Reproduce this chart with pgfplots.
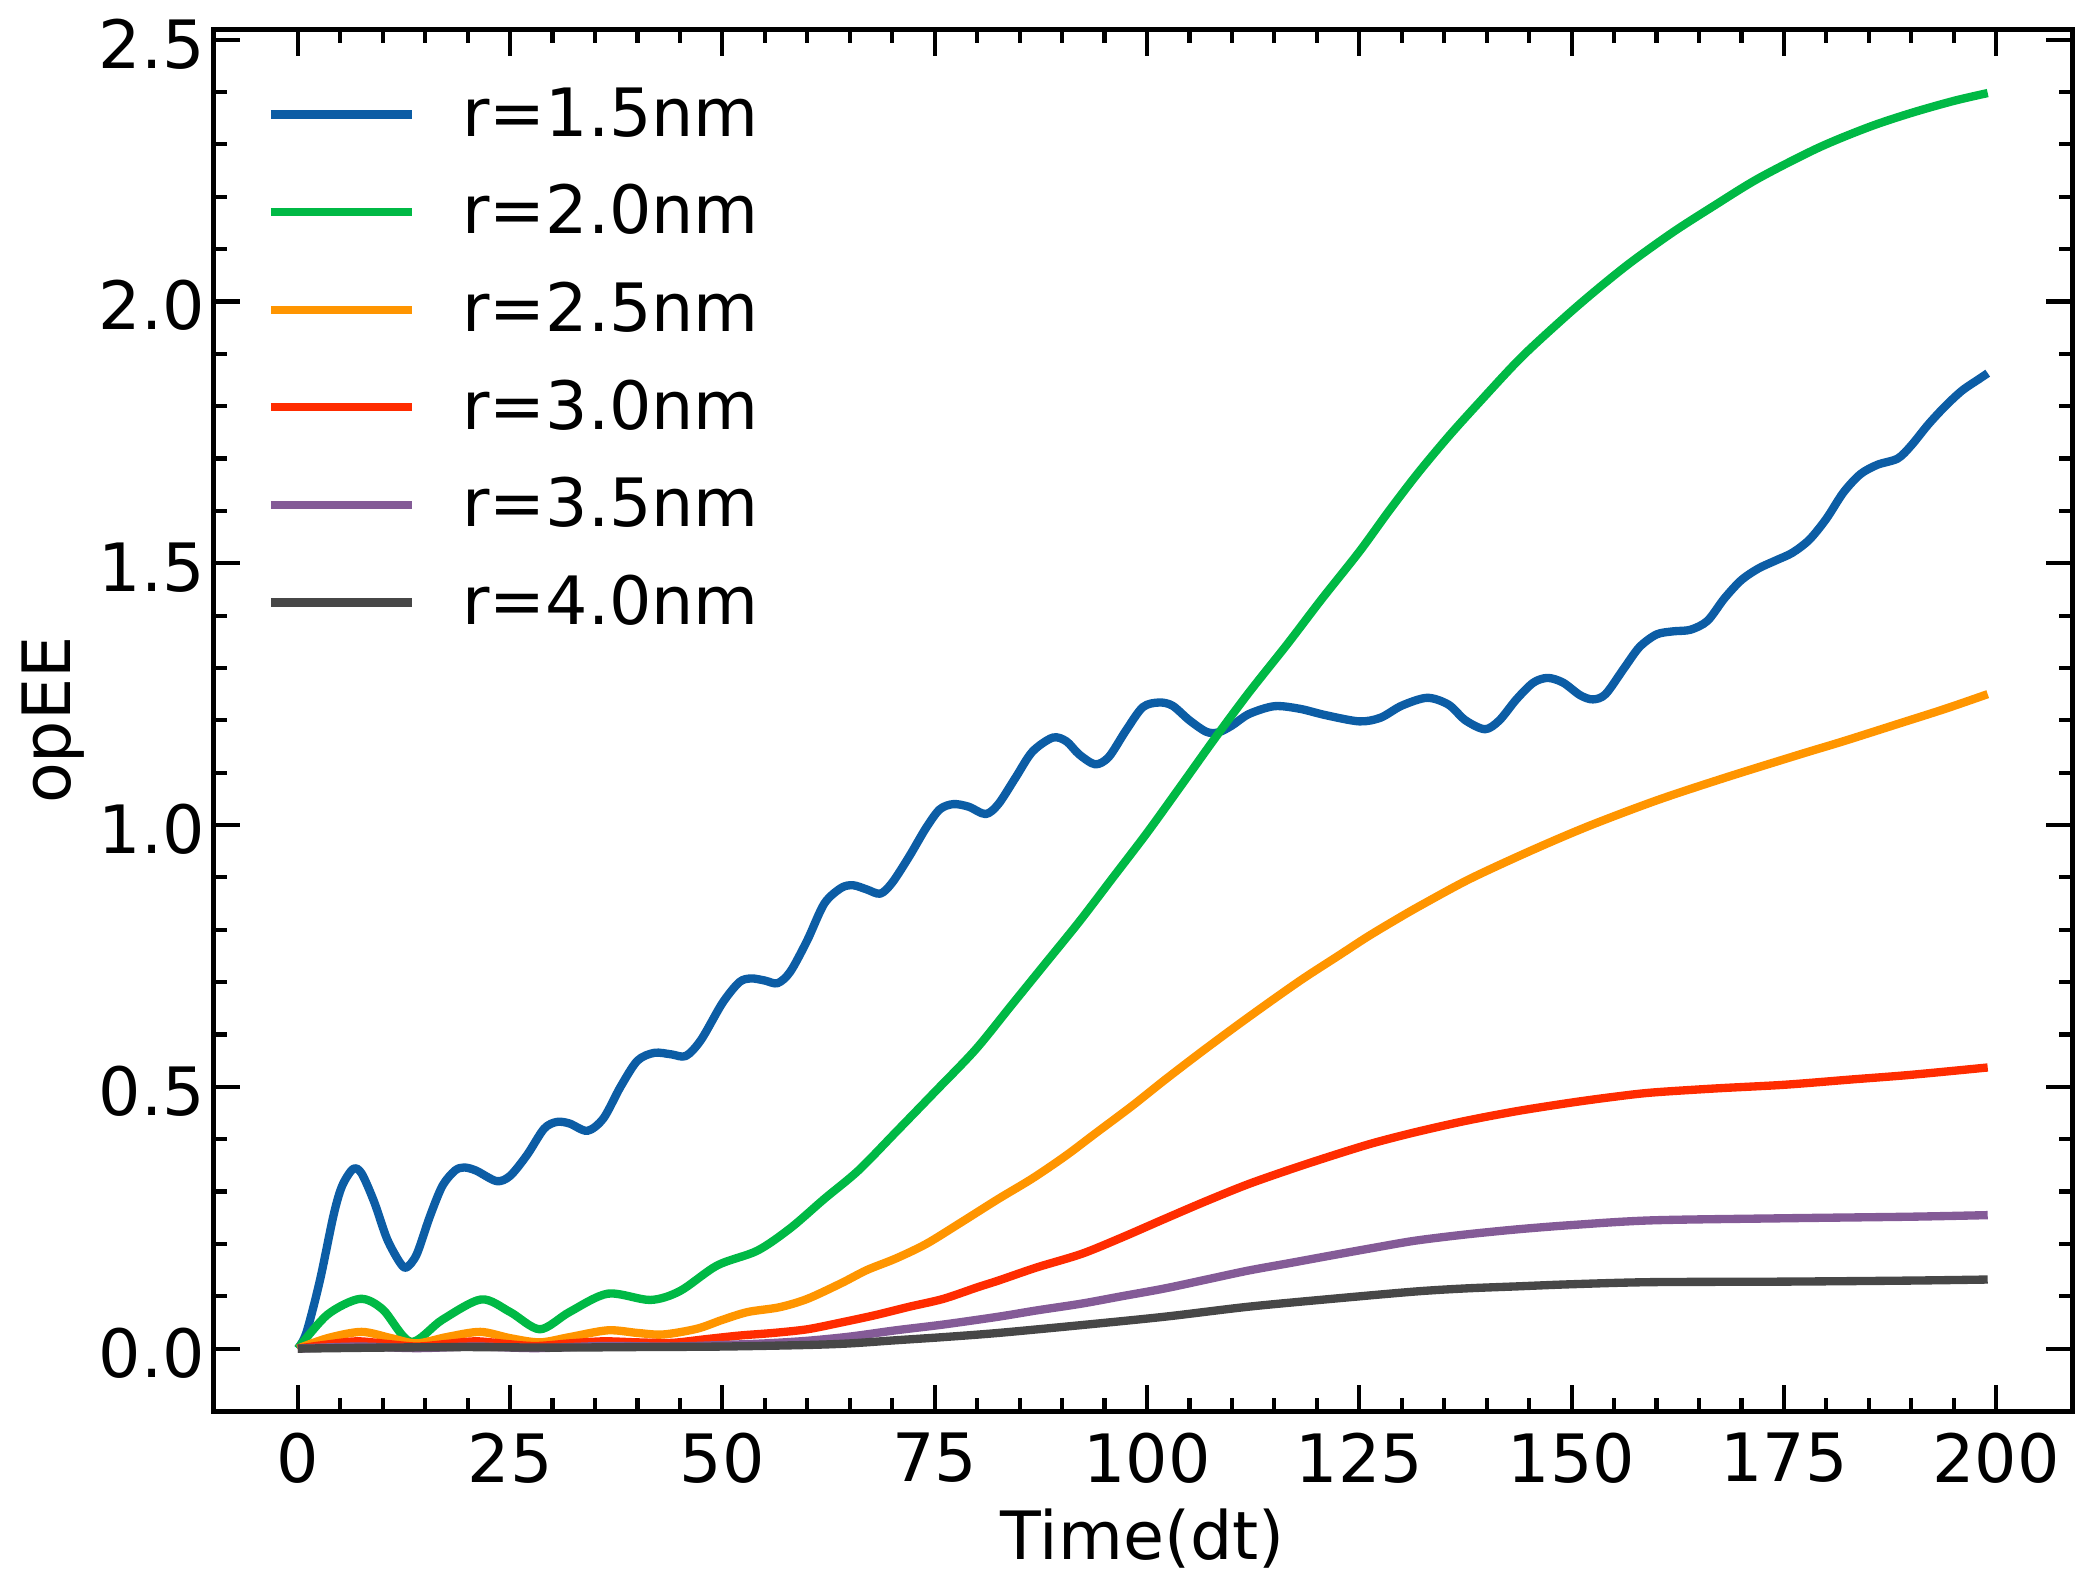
\documentclass[border=0pt]{standalone}
\usepackage{fontspec}
\setmainfont{DejaVu Sans}
\usepackage{pgfplots}
\pgfplotsset{compat=1.18}
\definecolor{cblue}{HTML}{0C5DA5}
\definecolor{cgreen}{HTML}{00B945}
\definecolor{corange}{HTML}{FF9500}
\definecolor{cred}{HTML}{FF2C00}
\definecolor{cpurple}{HTML}{845B97}
\definecolor{cgray}{HTML}{474747}
\begin{document}
\begin{tikzpicture}
\begin{axis}[
  scale only axis, width=223.1pt, height=165.9pt,
  xmin=-9.95, xmax=208.95, ymin=-0.12, ymax=2.52,
  xtick={0,25,...,200}, ytick={0,0.5,1.0,1.5,2.0,2.5},
  minor x tick num=4, minor y tick num=4,
  tick align=inside, major tick length=3.2pt, minor tick length=1.6pt,
  every tick/.style={black, line width=0.5pt},
  axis line style={line width=0.6pt},
  /pgf/number format/assume math mode=true,
  tick label style={font=\fontsize{8}{9.6}\selectfont},
  xticklabel style={inner sep=0pt, anchor=north, yshift=-2.4pt},
  yticklabel style={inner sep=0pt, anchor=east, xshift=-0.8pt, yshift=-0.5pt,
    /pgf/number format/.cd, fixed, fixed zerofill, precision=1},
  xlabel={Time(dt)}, ylabel={opEE},
  every axis x label/.style={at={(axis description cs:0.5,-0.0922)}, anchor=center, inner sep=0pt, font=\fontsize{8}{9.6}\selectfont},
  every axis y label/.style={at={(axis description cs:-0.0861,0.5)}, rotate=90, anchor=center, inner sep=0pt, font=\fontsize{8}{9.6}\selectfont},
  legend style={at={(axis description cs:0,1)}, anchor=north west, xshift=6.4pt, yshift=-7.03pt,
    draw=none, fill=none, inner sep=0pt, outer sep=0pt, row sep=5.88pt, column sep=5.6pt,
    font=\fontsize{8}{9.6}\selectfont, nodes={inner sep=0pt, text height=5.83pt, text depth=0pt}},
  legend cell align=left,
  legend image code/.code={\draw[#1, line width=1pt] (0pt,-0.3pt) -- (16.9pt,-0.3pt);},
  every axis plot/.append style={line width=1pt, smooth, line join=round},
]
\addplot[cblue] coordinates {
(0,0) (1,0.03) (2.6,0.13) (4.2,0.254) (5.2,0.31) (6.5,0.343) (7.5,0.335) (9,0.28) (10.5,0.21) (12,0.165) (12.8,0.155)
(14,0.18) (15.5,0.25) (17,0.31) (18.5,0.34) (19.6,0.346) (21,0.34) (23.4,0.32) (25,0.33) (27,0.37) (29,0.42) (30.5,0.433)
(32,0.43) (34.1,0.416) (36,0.44) (38,0.5) (40,0.55) (42,0.565) (44,0.562) (45.7,0.559) (47.5,0.59) (50,0.66) (52,0.7)
(53.4,0.707) (55,0.703) (56.5,0.698) (58,0.72) (60,0.78) (62,0.85) (64,0.88) (65.4,0.885) (67,0.877) (68.6,0.869)
(70,0.89) (72,0.94) (74,0.995) (75.6,1.03) (77.2,1.04) (79,1.035) (81,1.021) (82.5,1.04) (84.5,1.09) (86.5,1.14)
(88.9,1.167) (90.5,1.16) (92,1.135) (93.9,1.116) (95.5,1.13) (97.5,1.18) (99.5,1.225) (101.4,1.234) (103,1.228)
(105,1.2) (107,1.178) (108.4,1.177) (110,1.19) (112,1.212) (115,1.227) (118,1.222) (121,1.21) (125,1.198) (127.5,1.205)
(130,1.228) (133,1.243) (135.5,1.23) (137.5,1.2) (139.8,1.183) (141.5,1.2) (143.5,1.24) (145.5,1.272) (147.2,1.281)
(149,1.272) (151,1.248) (152.5,1.24) (154,1.25) (156.2,1.3) (158,1.34) (160,1.364) (162,1.37) (164,1.373) (166,1.39)
(168,1.433) (170,1.468) (172,1.49) (174,1.505) (176,1.52) (178,1.545) (180,1.585) (182,1.635) (184,1.67) (186,1.688)
(188.4,1.70) (190,1.725) (192,1.765) (194,1.80) (196,1.83) (198,1.852) (199,1.863)};
\addlegendentry{r=1.5nm}
\addplot[cgreen] coordinates {
(0,0) (3.5,0.065) (7.3,0.095) (10,0.075) (13.3,0.013) (17,0.055) (21.6,0.094) (25,0.07) (28.5,0.037) (32,0.07)
(36.5,0.105) (41.5,0.093) (45,0.11) (49.4,0.159) (54.1,0.187) (58,0.23) (62,0.286) (66,0.34) (70.4,0.413) (75,0.49)
(79.8,0.571) (84,0.655) (88,0.735) (92,0.815) (96,0.90) (100,0.985) (104,1.075) (108.1,1.168) (112,1.253) (116.5,1.345)
(120.5,1.43) (125,1.522) (128.5,1.60) (131.9,1.672) (135.5,1.742) (139,1.805) (144,1.892) (149.2,1.97) (153,2.023)
(157,2.075) (162,2.133) (166.8,2.183) (172,2.235) (179,2.293) (185,2.333) (190,2.36) (195,2.383) (199,2.398)};
\addlegendentry{r=2.0nm}
\addplot[corange] coordinates {
(0,0) (3.5,0.02) (7.5,0.032) (11,0.02) (14,0.01) (17.5,0.022) (21.5,0.032) (25,0.02) (28.5,0.012) (32,0.022)
(36.5,0.035) (40,0.03) (43,0.027) (47,0.038) (50,0.055) (53,0.07) (56.7,0.079) (60,0.095) (64,0.125) (67,0.15)
(70.4,0.172) (74,0.2) (78,0.24) (82.5,0.286) (86.5,0.325) (90.4,0.368) (94,0.412) (98.2,0.463) (102,0.512)
(106.1,0.563) (110.5,0.616) (114.7,0.665) (118.5,0.708) (122.5,0.75) (126,0.787) (129.6,0.822) (132.4,0.848)
(138,0.897) (145.2,0.951) (152,0.998) (160,1.047) (168,1.09) (176.9,1.135) (182,1.16) (188.4,1.193) (194,1.222) (199,1.25)};
\addlegendentry{r=2.5nm}
\addplot[cred] coordinates {
(0,0) (3.5,0.008) (7,0.014) (10.5,0.009) (14,0.004) (17.5,0.009) (21,0.014) (24.5,0.009) (28,0.005) (32,0.01)
(36,0.014) (40,0.012) (44,0.011) (48,0.018) (52,0.025) (56,0.03) (60,0.037) (64,0.05) (68,0.064) (72,0.08) (76,0.095)
(80,0.117) (82.5,0.13) (87,0.155) (92.3,0.181) (97,0.212) (102.1,0.248) (107,0.282) (111.9,0.314) (117,0.343)
(121.7,0.368) (126.5,0.392) (131.5,0.413) (137.5,0.435) (143.7,0.454) (150,0.47) (155,0.481) (159.4,0.489)
(167,0.497) (175.1,0.504) (182.9,0.514) (190,0.523) (199,0.537)};
\addlegendentry{r=3.0nm}
\addplot[cpurple] coordinates {
(0,0) (7,0.004) (14,0.001) (21,0.004) (28,0.001) (36,0.005) (44,0.004) (50,0.007) (55,0.01) (60,0.015) (65,0.023)
(70.4,0.035) (76,0.046) (82.5,0.061) (87,0.073) (92.3,0.086) (97,0.1) (102.1,0.115) (107,0.132) (111.9,0.149)
(117,0.164) (121.7,0.178) (126.5,0.192) (131.5,0.206) (137.5,0.218) (143.7,0.228) (150,0.236) (159.4,0.245)
(175.1,0.249) (190,0.252) (199,0.255)};
\addlegendentry{r=3.5nm}
\addplot[cgray] coordinates {
(0,0) (10,0.002) (20,0.003) (30,0.002) (40,0.003) (50,0.004) (60,0.007) (65,0.01) (70.4,0.016) (76,0.022) (82.5,0.03)
(92.3,0.045) (102.1,0.061) (111.9,0.08) (121.7,0.095) (131.5,0.109) (137.5,0.115) (143.7,0.119) (150,0.123)
(159.4,0.127) (175.1,0.128) (190,0.130) (199,0.132)};
\addlegendentry{r=4.0nm}
\end{axis}
\pgfresetboundingbox
\useasboundingbox (-25.6pt,-21.3pt) rectangle (225.0pt,169.4pt);
\end{tikzpicture}
\end{document}
